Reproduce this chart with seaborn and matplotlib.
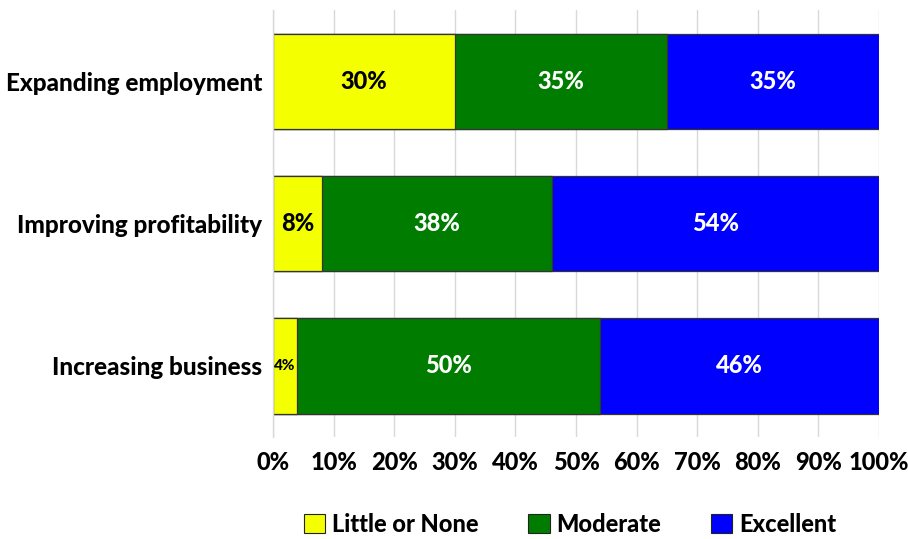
import matplotlib
matplotlib.use("Agg")
import matplotlib.pyplot as plt
import seaborn as sns
import numpy as np
import pandas as pd
from matplotlib.patches import Patch
from matplotlib.ticker import FixedLocator

categories = ["Expanding employment", "Improving profitability", "Increasing business"]
series_names = ["Little or None", "Moderate", "Excellent"]
little = [30, 8, 4]
moderate = [35, 38, 50]
excellent = [35, 54, 46]
tick_values = [0, 10, 20, 30, 40, 50, 60, 70, 80, 90, 100]
tick_labels = [f"{v}%" for v in tick_values]

colors = ["#f4ff00", "#007d00", "#0000ff"]
label_colors = ["black", "white", "white"]

sns.set_theme(style="white")
plt.rcParams["font.family"] = ["Lato", "DejaVu Sans"]
plt.rcParams["text.color"] = "black"
plt.rcParams["xtick.color"] = "black"
plt.rcParams["ytick.color"] = "black"
W = "black"

values = np.array([little, moderate, excellent], dtype=float)
cum = np.cumsum(values, axis=0)

fig = plt.figure(figsize=(9.08, 5.39), dpi=100)
ax = fig.add_axes([0.3007, 0.1892, 0.6674, 0.7922])

# Stacked horizontal bars: draw cumulative totals from the longest down
for k in range(len(series_names) - 1, -1, -1):
    df = pd.DataFrame({"category": categories, "value": cum[k]})
    sns.barplot(data=df, x="value", y="category", orient="y", color=colors[k],
                saturation=1, width=0.67, edgecolor="#333333", linewidth=0.9,
                ax=ax, zorder=2)

# Segment labels
for k in range(len(series_names)):
    left = cum[k] - values[k]
    for i, v in enumerate(values[k]):
        size = 11 if v < 5 else 17
        ax.text(left[i] + v / 2, i, f"{int(v)}%", ha="center", va="center",
                color=label_colors[k], fontsize=size, fontweight=W, zorder=3)

ax.set_xlim(0, 100)
ax.set_ylim(2.5, -0.5)
ax.xaxis.set_major_locator(FixedLocator(tick_values))
ax.set_xticklabels(tick_labels, fontsize=17, fontweight=W)
ax.set_yticks(range(len(categories)))
ax.set_yticklabels(categories, fontsize=17.5, fontweight=W)
ax.set_xlabel("")
ax.set_ylabel("")
ax.grid(axis="x", color="#d9d9d9", linewidth=1, zorder=0)
ax.set_axisbelow(True)

for s in ["top", "right", "bottom"]:
    ax.spines[s].set_visible(False)
ax.spines["left"].set_color("#d9d9d9")
ax.spines["left"].set_linewidth(1)

ax.tick_params(axis="y", which="major", length=0, pad=8)
ax.yaxis.set_minor_locator(FixedLocator([-0.5, 0.5, 1.5, 2.5]))
ax.tick_params(axis="y", which="minor", length=7, color="#d9d9d9", width=1)
ax.tick_params(axis="x", length=0, pad=10)

handles = [Patch(facecolor=c, edgecolor="#222222", linewidth=0.8) for c in colors]
fig.legend(handles, series_names, loc="lower center", ncol=3, frameon=False,
           bbox_to_anchor=(0.628, -0.033), prop={"size": 17, "weight": W},
           handlelength=0.9, handleheight=0.9, handletextpad=0.3, columnspacing=2.1)

fig.savefig("out.png", dpi=100)
